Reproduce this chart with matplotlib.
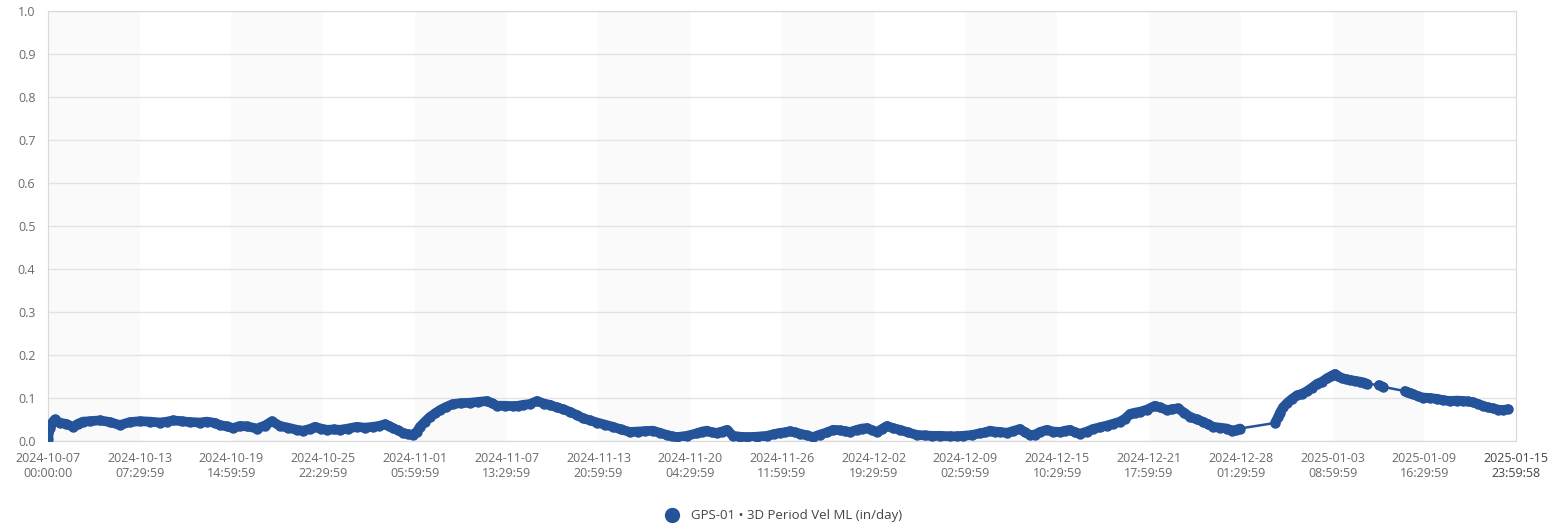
import numpy as np
import pandas as pd
import matplotlib
matplotlib.use("Agg")
import matplotlib.pyplot as plt
from matplotlib.lines import Line2D

plt.rcParams['font.family'] = ['Open Sans', 'DejaVu Sans']

# days since 2024-10-07 00:00:00 and velocity (in/day)
days = [0.00, 0.14, 0.34, 0.48, 0.83, 1.24, 1.72, 2.06, 2.41, 2.89,
        3.58, 4.27, 4.95, 5.64, 6.33, 7.02, 7.71, 8.19, 8.60, 9.22,
        9.77, 10.46, 10.94, 11.49, 11.83, 12.32, 12.73, 13.21, 13.69, 14.38,
        14.93, 15.41, 15.96, 16.51, 17.13, 17.54, 18.03, 18.37, 18.78, 19.20,
        19.68, 20.09, 20.64, 21.26, 21.81, 22.36, 22.77, 23.19, 23.46, 23.74,
        24.08, 24.42, 24.77, 25.11, 25.39, 25.59, 25.94, 26.28, 26.63, 26.97,
        27.38, 27.86, 28.41, 29.03, 29.58, 30.20, 30.55, 30.89, 31.44, 31.99,
        32.34, 32.68, 33.16, 33.64, 34.13, 34.54, 35.02, 35.43, 35.91, 36.40,
        36.81, 37.29, 37.77, 38.32, 38.87, 39.42, 40.04, 40.59, 41.07, 41.62,
        42.10, 42.58, 42.93, 43.27, 43.96, 44.65, 45.00, 45.34, 45.68, 46.03,
        46.37, 46.72, 47.13, 47.61, 48.09, 48.78, 49.47, 49.95, 50.36, 50.71,
        51.05, 51.40, 51.74, 52.22, 52.63, 53.11, 53.60, 54.01, 54.49, 54.84,
        55.18, 55.66, 56.00, 56.35, 56.69, 57.04, 57.38, 57.72, 58.14, 58.62,
        59.17, 59.79, 60.34, 60.82, 61.37, 62.06, 62.54, 62.95, 63.57, 64.12,
        64.47, 64.81, 65.15, 65.50, 65.98, 66.39, 66.87, 67.22, 67.56, 67.91,
        68.25, 68.73, 69.15, 69.63, 69.97, 70.31, 70.66, 71.00, 71.48, 71.90,
        72.38, 72.86, 73.27, 73.75, 74.10, 74.44, 74.78, 75.13, 75.61, 76.16,
        76.51, 76.99, 77.33, 77.74, 78.16, 78.57, 79.05, 79.46, 79.81, 80.15,
        80.63, 81.11, 81.46, 81.73, 82.01,
        84.42, 84.62, 84.76, 84.97, 85.24, 85.59, 85.93, 86.28, 86.62, 86.96,
        87.31, 87.65, 88.00, 88.27, 88.55, 88.75, 89.03, 89.30, 89.58, 89.92,
        90.27, 90.54, 90.75,
        91.57, 91.85,
        93.36, 93.50, 93.71, 93.91, 94.26, 94.60, 95.08, 95.57, 95.98, 96.46,
        96.94, 97.35, 97.70, 98.04, 98.39, 98.73, 99.07, 99.42, 99.76, 100.11,
        100.45]

vel = [0.005, 0.030, 0.045, 0.050, 0.042, 0.040, 0.033, 0.040, 0.045, 0.046,
       0.048, 0.044, 0.037, 0.044, 0.046, 0.045, 0.043, 0.045, 0.048, 0.046,
       0.044, 0.043, 0.045, 0.042, 0.037, 0.034, 0.030, 0.035, 0.034, 0.029,
       0.036, 0.046, 0.035, 0.031, 0.026, 0.024, 0.028, 0.033, 0.029, 0.026,
       0.027, 0.026, 0.029, 0.033, 0.031, 0.033, 0.035, 0.039, 0.035, 0.030,
       0.025, 0.019, 0.016, 0.014, 0.022, 0.033, 0.045, 0.056, 0.064, 0.072,
       0.079, 0.086, 0.088, 0.089, 0.091, 0.093, 0.088, 0.082, 0.082, 0.081,
       0.082, 0.084, 0.086, 0.093, 0.087, 0.084, 0.078, 0.074, 0.068, 0.060,
       0.053, 0.048, 0.043, 0.038, 0.033, 0.027, 0.021, 0.022, 0.023, 0.024,
       0.019, 0.014, 0.011, 0.009, 0.012, 0.018, 0.022, 0.024, 0.020, 0.019,
       0.022, 0.026, 0.012, 0.010, 0.009, 0.010, 0.012, 0.016, 0.019, 0.020,
       0.023, 0.020, 0.017, 0.013, 0.009, 0.015, 0.020, 0.026, 0.025, 0.023,
       0.021, 0.026, 0.029, 0.030, 0.025, 0.021, 0.028, 0.035, 0.030, 0.026,
       0.020, 0.014, 0.013, 0.012, 0.012, 0.011, 0.011, 0.012, 0.014, 0.018,
       0.020, 0.024, 0.022, 0.021, 0.019, 0.023, 0.028, 0.020, 0.014, 0.015,
       0.021, 0.026, 0.022, 0.021, 0.024, 0.026, 0.020, 0.017, 0.022, 0.028,
       0.032, 0.036, 0.040, 0.045, 0.052, 0.063, 0.066, 0.068, 0.073, 0.082,
       0.078, 0.072, 0.074, 0.076, 0.066, 0.056, 0.050, 0.045, 0.039, 0.033,
       0.031, 0.029, 0.024, 0.026, 0.029,
       0.042, 0.055, 0.066, 0.078, 0.088, 0.098, 0.106, 0.110, 0.116, 0.124,
       0.133, 0.138, 0.146, 0.151, 0.156, 0.150, 0.146, 0.144, 0.142, 0.140,
       0.138, 0.136, 0.133,
       0.130, 0.126,
       0.116, 0.114, 0.112, 0.109, 0.104, 0.101, 0.100, 0.098, 0.095, 0.093,
       0.094, 0.093, 0.092, 0.090, 0.086, 0.082, 0.078, 0.076, 0.073, 0.072,
       0.074]

tick_labels = ["2024-10-07\n00:00:00", "2024-10-13\n07:29:59", "2024-10-19\n14:59:59",
               "2024-10-25\n22:29:59", "2024-11-01\n05:59:59", "2024-11-07\n13:29:59",
               "2024-11-13\n20:59:59", "2024-11-20\n04:29:59", "2024-11-26\n11:59:59",
               "2024-12-02\n19:29:59", "2024-12-09\n02:59:59", "2024-12-15\n10:29:59",
               "2024-12-21\n17:59:59", "2024-12-28\n01:29:59", "2025-01-03\n08:59:59",
               "2025-01-09\n16:29:59", "2025-01-15\n23:59:58"]

series_name = "GPS-01 \u2022 3D Period Vel ML (in/day)"

start = pd.Timestamp("2024-10-07 00:00:00")
end = pd.Timestamp("2025-01-15 23:59:58")
t = start + pd.to_timedelta(np.array(days), unit="D")
v = np.array(vel)
tick_times = [pd.Timestamp(s.replace("\n", " ")) for s in tick_labels]

blue = "#24539a"
grey_txt = "#6b6b6b"

fig = plt.figure(figsize=(15.61, 5.23), dpi=100)
ax = fig.add_axes([0.0307, 0.1568, 0.9405, 0.8222])

# alternating shaded bands between ticks
for i in range(0, len(tick_times) - 1, 2):
    ax.axvspan(tick_times[i], tick_times[i + 1], color="#fafafa", lw=0, zorder=0)

# thin line across the whole series, thick where data is continuous
ax.plot(t, v, color=blue, lw=1.8, zorder=3)
gaps = np.where(np.diff(days) > 0.75)[0] + 1
for seg in np.split(np.arange(len(days)), gaps):
    ax.plot(t[seg], v[seg], color=blue, lw=7, solid_capstyle="round",
            solid_joinstyle="round", zorder=3)
ax.plot(t, v, ls="none", marker="o", ms=6.5, color=blue, zorder=4)

ax.set_ylim(0, 1.0)
ax.set_yticks(np.arange(0, 1.01, 0.1))
ax.set_yticklabels([f"{y:.1f}" for y in np.arange(0, 1.01, 0.1)])
ax.set_xlim(start, end)
ax.set_xticks(tick_times)
ax.set_xticklabels(tick_labels)
ax.grid(axis="y", color="#e3e3e3", lw=1)
ax.set_axisbelow(True)
for s in ax.spines.values():
    s.set_color("#d9d9d9")
ax.tick_params(length=0, colors=grey_txt, labelsize=9)
ax.tick_params(axis="x", pad=8)
ax.tick_params(axis="y", pad=9)
for lab in ax.get_xticklabels():
    lab.set_linespacing(1.2)
ax.get_xticklabels()[-1].set_color("#454545")

handle = Line2D([], [], ls="none", marker="o", ms=10, color=blue)
fig.legend([handle], [series_name], loc="center", bbox_to_anchor=(0.5, 0.014),
           frameon=False, fontsize=9.5, labelcolor="#444444", handletextpad=0.4)

fig.savefig("out.png", dpi=100, facecolor="white")
